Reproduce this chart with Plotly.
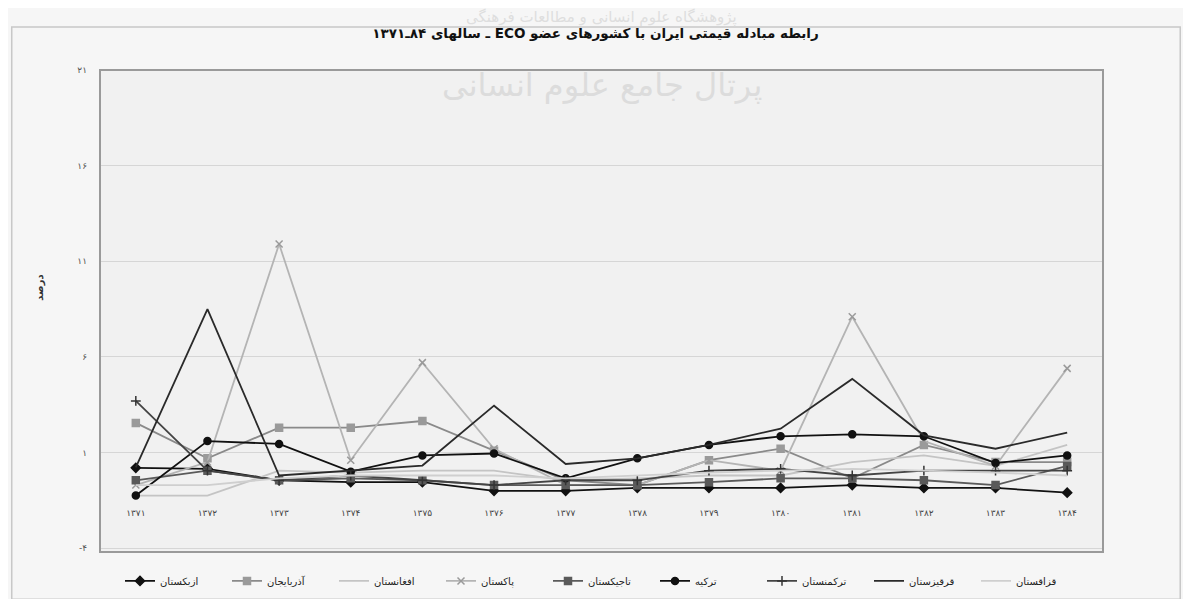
import plotly.graph_objs as go

years = ['۱۳۷۱', '۱۳۷۲', '۱۳۷۳', '۱۳۷۴', '۱۳۷۵', '۱۳۷۶', '۱۳۷۷',
         '۱۳۷۸', '۱۳۷۹', '۱۳۸۰', '۱۳۸۱', '۱۳۸۲', '۱۳۸۳', '۱۳۸۴']

uzbekistan = [0.2, 0.15, -0.45, -0.55, -0.55, -1.0, -1.0, -0.85, -0.85, -0.85, -0.7, -0.85, -0.85, -1.1]
azerbaijan = [2.55, 0.7, 2.3, 2.3, 2.65, 1.1, -0.45, -0.7, 0.6, 1.2, -0.35, 1.4, 0.5, 0.5]
afghanistan = [-1.25, -1.25, 0.05, -0.05, 0.05, 0.05, -0.45, -0.35, -0.2, -0.2, 0.5, 0.85, 0.3, 1.4]
pakistan = [-0.7, 0.5, 11.9, 0.6, 5.7, 1.2, -0.7, -0.7, 0.6, 0.05, 8.1, 1.6, 0.3, 5.4]
tajikistan = [-0.45, 0.05, -0.45, -0.35, -0.45, -0.7, -0.7, -0.7, -0.55, -0.35, -0.35, -0.45, -0.7, 0.3]
turkey = [-1.25, 1.6, 1.45, 0.0, 0.85, 0.95, -0.35, 0.7, 1.4, 1.85, 1.95, 1.85, 0.45, 0.85]
turkmenistan = [3.7, 0.05, -0.45, -0.2, -0.45, -0.7, -0.45, -0.45, 0.05, 0.15, -0.2, 0.05, 0.05, 0.05]
kyrgyzstan = [0.22, 8.5, -0.2, 0.06, 0.32, 3.45, 0.4, 0.7, 1.4, 2.25, 4.85, 1.9, 1.2, 2.04]
kazakhstan = [-0.7, -0.7, -0.35, -0.2, -0.2, -0.2, -0.35, -0.2, -0.05, 0.05, 0.15, 0.05, -0.05, -0.2]

y_ticks = [-4, 1, 6, 11, 16, 21]
y_tick_text = ['-۴', '۱', '۶', '۱۱', '۱۶', '۲۱']

FONT = 'DejaVu Sans'
RLE, PDF = '\u202b', '\u202c'

# name, values, line colour, marker symbol, marker colour
series = [
    ('ازبکستان', uzbekistan, '#111111', 'diamond', '#111111'),
    ('آذربایجان', azerbaijan, '#8a8a8a', 'square', '#9a9a9a'),
    ('افغانستان', afghanistan, '#c4c4c4', None, None),
    ('پاکستان', pakistan, '#b4b4b4', 'x-thin', '#9a9a9a'),
    ('تاجیکستان', tajikistan, '#5a5a5a', 'square', '#5a5a5a'),
    ('ترکیه', turkey, '#111111', 'circle', '#111111'),
    ('ترکمنستان', turkmenistan, '#444444', 'cross-thin', '#333333'),
    ('قرقیزستان', kyrgyzstan, '#2a2a2a', None, None),
    ('قزاقستان', kazakhstan, '#cfcfcf', None, None),
]

fig = go.Figure()
for name, vals, col, sym, mcol in series:
    if sym:
        fig.add_trace(go.Scatter(
            x=years, y=vals, name=name, mode='lines+markers',
            line=dict(color=col, width=1.8),
            marker=dict(symbol=sym, size=7, color=mcol,
                        line=dict(color=mcol, width=1.5))))
    else:
        fig.add_trace(go.Scatter(
            x=years, y=vals, name=name, mode='lines',
            line=dict(color=col, width=1.8)))

# chart frame and plot-area border
fig.add_shape(type='rect', xref='paper', yref='paper', x0=-0.088, x1=1.077, y0=-0.098, y1=1.089,
              line=dict(color='#c8c8c8', width=1.5), layer='below')
fig.add_shape(type='rect', xref='paper', yref='paper', x0=0, x1=1, y0=0, y1=1,
              line=dict(color='#9a9a9a', width=2), layer='above')

# faint scanned watermark
fig.add_annotation(text='پرتال جامع علوم انسانی', xref='paper', yref='paper',
                   x=0.5, y=0.968, yanchor='middle', showarrow=False,
                   font=dict(family=FONT, size=32, color='#dcdcdc'))
fig.add_annotation(text='پژوهشگاه علوم انسانی و مطالعات فرهنگی', xref='paper', yref='paper',
                   x=0.5, y=1.108, yanchor='middle', showarrow=False,
                   font=dict(family=FONT, size=15, color='#dedede'))

# y axis title
fig.add_annotation(text='<b>درصد</b>', xref='paper', yref='paper', x=-0.068, y=0.548,
                   textangle=-90, showarrow=False,
                   font=dict(family=FONT, size=10, color='#333333'))

fig.update_layout(
    width=1175, height=591,
    margin=dict(l=92, r=80, t=62, b=47, autoexpand=False),
    paper_bgcolor='#f6f6f6', plot_bgcolor='#f1f1f1',
    font=dict(family=FONT, color='#222222', size=10),
    title=dict(text=RLE + '<b>رابطه مبادله قیمتی ایران با کشورهای عضو ECO ـ سالهای ۸۴ـ۱۳۷۱</b>' + PDF,
               x=0.5, xanchor='center', y=0.957, yanchor='middle',
               font=dict(family=FONT, size=13.5, color='#111111')),
    xaxis=dict(type='category', range=[-0.5, 13.5], showgrid=False, showline=False,
               zeroline=False, anchor='free', position=0.095, ticks='',
               tickfont=dict(size=9, color='#444444')),
    yaxis=dict(range=[-4.2, 21], tickvals=y_ticks, ticktext=y_tick_text,
               showgrid=True, gridcolor='#d6d6d6', gridwidth=1, zeroline=False,
               showline=False, ticks='', ticklabelstandoff=12,
               tickfont=dict(size=9, color='#555555')),
    legend=dict(orientation='h', x=0.5, xanchor='center', y=-0.03, yanchor='top',
                bgcolor='rgba(0,0,0,0)', font=dict(size=10, color='#222222'),
                entrywidth=62, entrywidthmode='pixels', itemwidth=30),
    showlegend=True,
)

fig.write_html("out.html")
